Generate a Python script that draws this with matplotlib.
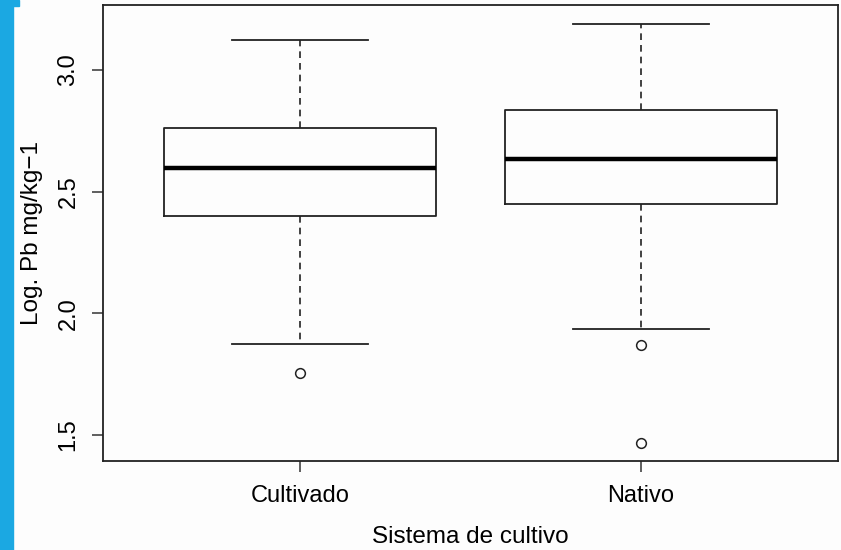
import matplotlib.pyplot as plt
from matplotlib.patches import Rectangle

plt.rcParams['font.family'] = ['Liberation Sans', 'DejaVu Sans']

# boxplot summary
groups = ['Cultivado', 'Nativo']
whislo = [1.873, 1.934]
q1 = [2.401, 2.451]
med = [2.599, 2.636]
q3 = [2.762, 2.836]
whishi = [3.123, 3.189]
fliers = [[1.753], [1.869, 1.467]]

stats = []
for i, g in enumerate(groups):
    stats.append(dict(label=g, whislo=whislo[i], q1=q1[i], med=med[i],
                      q3=q3[i], whishi=whishi[i], fliers=fliers[i]))

fig = plt.figure(figsize=(8.41, 5.5), dpi=100)
fig.patch.set_facecolor('#fdfdfd')
# blue strip on the left edge
fig.patches.append(Rectangle((0, 0), 13 / 841, 1, transform=fig.transFigure,
                             color='#1ba8e2', zorder=0))
fig.patches.append(Rectangle((0, 1 - 6 / 550), 19 / 841, 6 / 550,
                             transform=fig.transFigure, color='#1ba8e2', zorder=0))

ax = fig.add_axes([103 / 841, 1 - 461 / 550, 735 / 841, 456 / 550])
ax.set_facecolor('#fdfdfd')

ax.bxp(stats, positions=[1, 2], widths=0.8, showfliers=True,
       boxprops=dict(color='#222222', linewidth=1.3),
       medianprops=dict(color='black', linewidth=3.2),
       whiskerprops=dict(color='#222222', linewidth=1.2, linestyle=(0, (4, 3))),
       capprops=dict(color='#222222', linewidth=1.3),
       capwidths=0.4,
       flierprops=dict(marker='o', markerfacecolor='none',
                       markeredgecolor='#222222', markersize=7,
                       markeredgewidth=1.1))

ax.set_xlim(0.422, 2.578)
ax.set_ylim(1.393, 3.267)
ax.set_yticks([1.5, 2.0, 2.5, 3.0])
ax.set_yticklabels(['1.5', '2.0', '2.5', '3.0'], rotation=90, va='center')
ax.set_xticks([1, 2])
ax.set_xticklabels(groups)
ax.tick_params(axis='both', labelsize=17, length=8, width=1.1, color='#333333')
ax.tick_params(axis='y', pad=9)
ax.tick_params(axis='x', pad=9)
for s in ax.spines.values():
    s.set_linewidth(1.3)
    s.set_color('#222222')

ax.set_xlabel('Sistema de cultivo', fontsize=17.5, labelpad=14)
ax.set_ylabel('Log. Pb mg/kg\u22121', fontsize=17.5, labelpad=10)

fig.savefig('out.png', dpi=100, facecolor=fig.get_facecolor())
